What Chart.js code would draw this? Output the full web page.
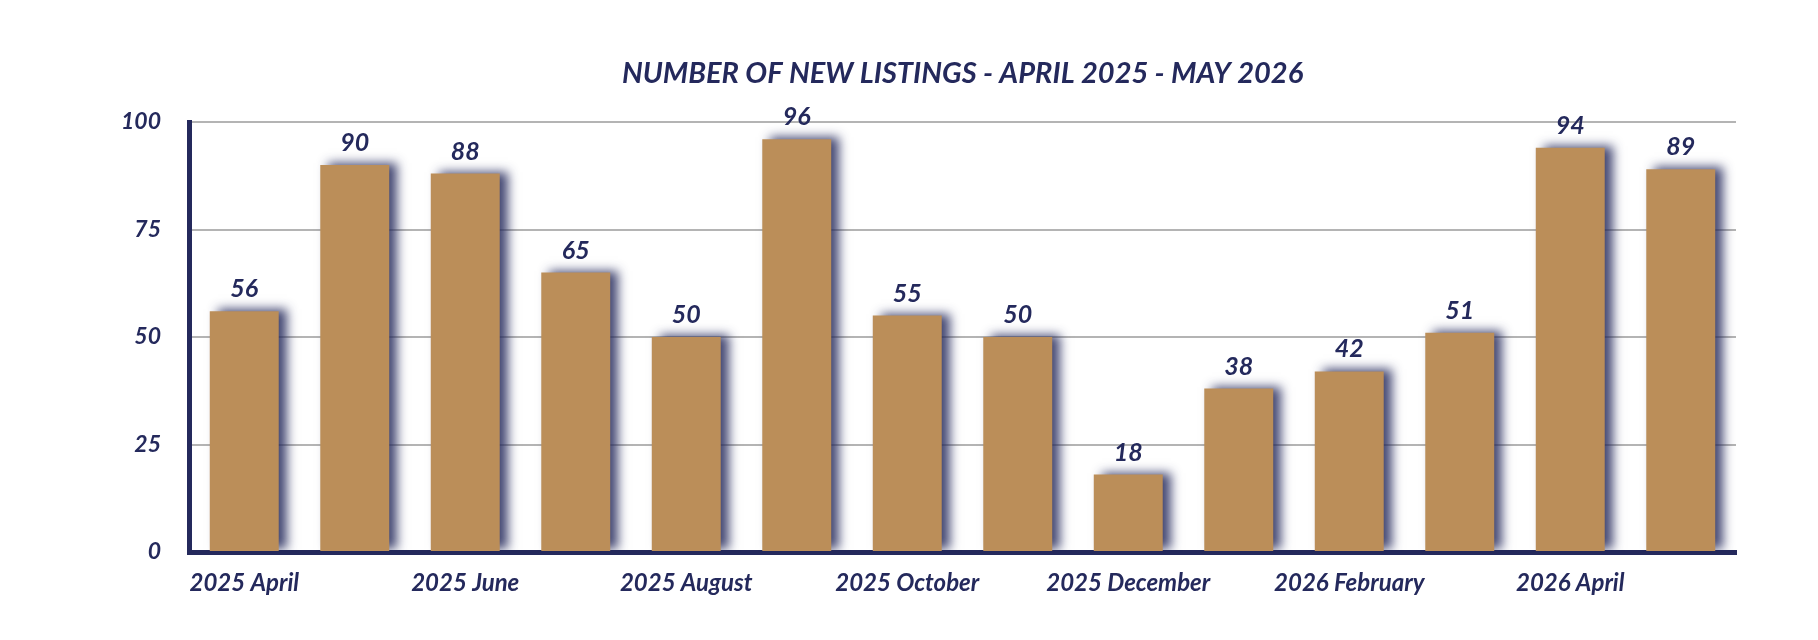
<!DOCTYPE html>
<html>
<head>
<meta charset="utf-8">
<script src="https://cdn.jsdelivr.net/npm/chart.js@4.4.1/dist/chart.umd.min.js"></script>
<style>
  html, body { margin: 0; padding: 0; background: #fff; }
  #wrap { width: 1818px; height: 640px; }
</style>
</head>
<body>
<div id="wrap"><canvas id="listings-chart"></canvas></div>
<script>
const titleText = 'NUMBER OF NEW LISTINGS - APRIL 2025 - MAY 2026';
const months = [
  '2025 April', '2025 May', '2025 June', '2025 July', '2025 August', '2025 September',
  '2025 October', '2025 November', '2025 December', '2026 January', '2026 February',
  '2026 March', '2026 April', '2026 May'
];
const newListings = [56, 90, 88, 65, 50, 96, 55, 50, 18, 38, 42, 51, 94, 89];
const yTicks = [0, 25, 50, 75, 100];

const navy = '#24295c';
const tan = '#bb8e59';
const fontFamily = 'Lato, "Open Sans", sans-serif';

// Drop shadow behind the bars, set before the bars get drawn
const barShadow = {
  id: 'barShadow',
  beforeDatasetsDraw(chart) {
    const ctx = chart.ctx;
    ctx.save();
    ctx.shadowColor = 'rgba(36, 41, 92, 0.85)';
    ctx.shadowBlur = 10;
    ctx.shadowOffsetX = 8;
    ctx.shadowOffsetY = -2;
  },
  afterDatasetsDraw(chart) {
    chart.ctx.restore();
  },
};

// Value labels above each bar and the title centred over the plot
const valueLabels = {
  id: 'valueLabels',
  afterDraw(chart) {
    const ctx = chart.ctx;
    const area = chart.chartArea;
    ctx.save();
    ctx.fillStyle = navy;
    ctx.textAlign = 'center';
    ctx.textBaseline = 'middle';

    ctx.font = 'italic bold 29px ' + fontFamily;
    ctx.fillText(titleText, (area.left + area.right) / 2, 74);

    ctx.font = 'italic bold 25px ' + fontFamily;
    chart.getDatasetMeta(0).data.forEach((bar, i) => {
      ctx.fillText(String(newListings[i]), bar.x, bar.y - 22);
    });
    ctx.restore();
  },
};

const config = {
  type: 'bar',
  data: {
    labels: months,
    datasets: [
      {
        label: 'New Listings',
        data: newListings,
        backgroundColor: tan,
        borderWidth: 0,
        barPercentage: 0.624,
        categoryPercentage: 1,
      },
    ],
  },
  options: {
    responsive: true,
    maintainAspectRatio: false,
    animation: false,
    layout: {
      padding: { top: 122, right: 82, bottom: 0, left: 0 },
    },
    plugins: {
      legend: { display: false },
      title: { display: false },
      tooltip: { enabled: false },
    },
    scales: {
      x: {
        grid: { display: false, drawTicks: false },
        border: { display: true, color: navy, width: 5 },
        ticks: {
          autoSkip: false,
          maxRotation: 0,
          minRotation: 0,
          padding: 17,
          color: navy,
          font: { family: fontFamily, size: 24, style: 'italic', weight: 'bold' },
          callback: (value, index) => (index % 2 === 0 ? months[index] : ''),
        },
        afterFit: (scale) => {
          scale.height = 88;
        },
      },
      y: {
        min: 0,
        max: 100,
        afterBuildTicks: (scale) => {
          scale.ticks = yTicks.map((v) => ({ value: v }));
        },
        grid: { color: '#b4b4b4', lineWidth: 2, drawTicks: false },
        border: { display: true, color: navy, width: 5 },
        ticks: {
          padding: 28,
          color: navy,
          font: { family: fontFamily, size: 23, style: 'italic', weight: 'bold' },
        },
        afterFit: (scale) => {
          scale.width = 189;
        },
      },
    },
  },
  plugins: [barShadow, valueLabels],
};

window.listingsChart = new Chart(document.getElementById('listings-chart'), config);
</script>
</body>
</html>
